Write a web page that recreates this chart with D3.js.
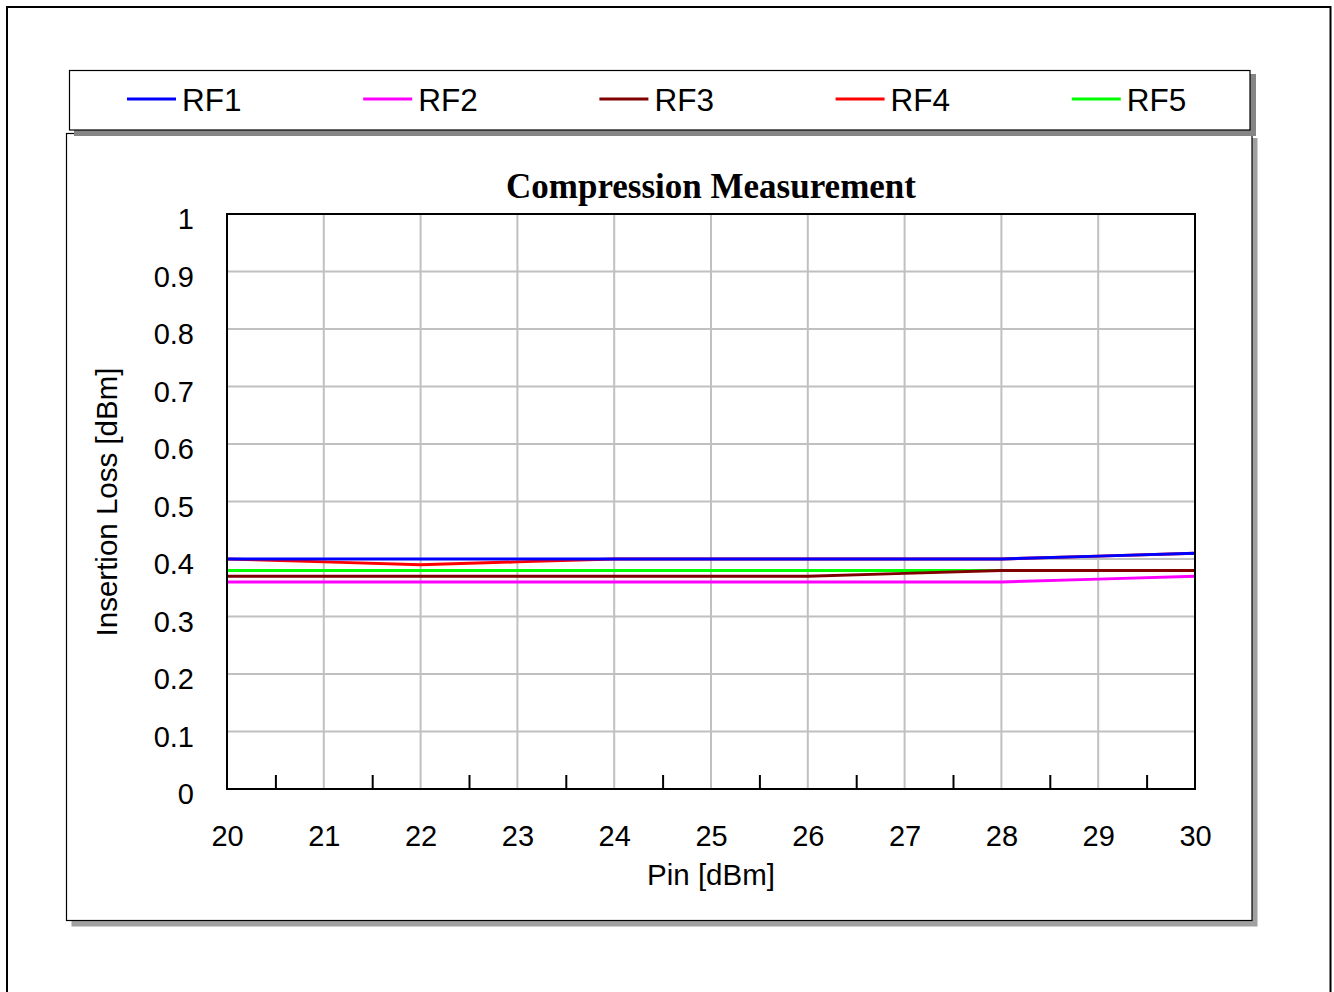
<!DOCTYPE html>
<html>
<head>
<meta charset="utf-8">
<script src="https://cdn.jsdelivr.net/npm/d3@7"></script>
<style>
  html, body { margin: 0; padding: 0; background: #fff; }
  svg { display: block; }
</style>
</head>
<body>
<svg id="chart" width="1334" height="992"></svg>
<script>
// ---- data ----
const pin = [20, 21, 22, 23, 24, 25, 26, 27, 28, 29, 30];
const seriesNames = ["RF1", "RF2", "RF3", "RF4", "RF5"];
const seriesColors = ["#0000ff", "#ff00ff", "#800000", "#ff0000", "#00ff00"];
const rf1 = [0.40, 0.40, 0.40, 0.40, 0.40, 0.40, 0.40, 0.40, 0.40, 0.405, 0.41];
const rf2 = [0.36, 0.36, 0.36, 0.36, 0.36, 0.36, 0.36, 0.36, 0.36, 0.365, 0.37];
const rf3 = [0.37, 0.37, 0.37, 0.37, 0.37, 0.37, 0.37, 0.375, 0.38, 0.38, 0.38];
const rf4 = [0.40, 0.395, 0.39, 0.395, 0.40, 0.40, 0.40, 0.40, 0.40, 0.405, 0.41];
const rf5 = [0.38, 0.38, 0.38, 0.38, 0.38, 0.38, 0.38, 0.38, 0.38, 0.38, 0.38];
const seriesValues = [rf1, rf2, rf3, rf4, rf5];
const xTicks = [20, 21, 22, 23, 24, 25, 26, 27, 28, 29, 30];
const xMinorTicks = [20.5, 21.5, 22.5, 23.5, 24.5, 25.5, 26.5, 27.5, 28.5, 29.5];
const yTicks = [0, 0.1, 0.2, 0.3, 0.4, 0.5, 0.6, 0.7, 0.8, 0.9, 1];
const yTickLabels = ["0", "0.1", "0.2", "0.3", "0.4", "0.5", "0.6", "0.7", "0.8", "0.9", "1"];
const titleText = "Compression Measurement";
const xTitle = "Pin [dBm]";
const yTitle = "Insertion Loss [dBm]";

// ---- layout ----
const sans = "'Liberation Sans', Arial, sans-serif";
const serif = "'Liberation Serif', 'Times New Roman', serif";
const svg = d3.select("#chart");
const plot = { left: 227, right: 1195, top: 214, bottom: 789 };

const x = d3.scaleLinear().domain([20, 30]).range([plot.left, plot.right]);
const y = d3.scaleLinear().domain([0, 1]).range([plot.bottom, plot.top]);

// outer frame
svg.append("rect").attr("x", 7).attr("y", 7).attr("width", 1323.5).attr("height", 1100)
  .attr("fill", "#fff").attr("stroke", "#000").attr("stroke-width", 2);

// panel shadow + panel
svg.append("rect").attr("x", 71.5).attr("y", 138).attr("width", 1186).attr("height", 788.5)
  .attr("fill", "#a0a0a0");
svg.append("rect").attr("x", 66.5).attr("y", 133.5).attr("width", 1185.5).attr("height", 787)
  .attr("fill", "#fff").attr("stroke", "#000").attr("stroke-width", 1.2);

// legend shadow + legend box
svg.append("rect").attr("x", 74).attr("y", 74).attr("width", 1182).attr("height", 62)
  .attr("fill", "#858585");
svg.append("rect").attr("x", 69.5).attr("y", 70.5).attr("width", 1180.5).attr("height", 59.5)
  .attr("fill", "#fff").attr("stroke", "#000").attr("stroke-width", 1.2);

const legend = svg.append("g");
seriesNames.forEach((name, i) => {
  const lx = 127 + i * 236.2;
  legend.append("line").attr("x1", lx).attr("x2", lx + 49).attr("y1", 99).attr("y2", 99)
    .attr("stroke", seriesColors[i]).attr("stroke-width", 3);
  legend.append("text").attr("x", lx + 55).attr("y", 110.5)
    .attr("font-family", sans).attr("font-size", 31.5).attr("fill", "#000").text(name);
});

// title
svg.append("text").attr("x", (plot.left + plot.right) / 2).attr("y", 198)
  .attr("text-anchor", "middle").attr("font-family", serif).attr("font-weight", "bold")
  .attr("font-size", 35).attr("fill", "#000").text(titleText);

// gridlines
const grid = svg.append("g");
grid.selectAll("line.vx").data(xTicks.slice(1, -1)).enter().append("line")
  .attr("x1", d => x(d)).attr("x2", d => x(d)).attr("y1", plot.top).attr("y2", plot.bottom)
  .attr("stroke", "#c0c0c0").attr("stroke-width", 2);
grid.selectAll("line.hy").data(yTicks.slice(1, -1)).enter().append("line")
  .attr("x1", plot.left).attr("x2", plot.right).attr("y1", d => y(d)).attr("y2", d => y(d))
  .attr("stroke", "#c0c0c0").attr("stroke-width", 2);

// minor ticks on bottom axis (inside)
const xAxisMinor = d3.axisTop(x).tickValues(xMinorTicks).tickSize(14).tickFormat("");
const gMinor = svg.append("g").attr("transform", `translate(0,${plot.bottom})`).call(xAxisMinor);
gMinor.select(".domain").remove();
gMinor.selectAll(".tick line").attr("stroke", "#000").attr("stroke-width", 2);

// series lines (draw in reverse so RF1 on top)
const line = d3.line().x((d, i) => x(pin[i])).y(d => y(d));
for (let i = seriesValues.length - 1; i >= 0; i--) {
  svg.append("path").datum(seriesValues[i]).attr("d", line)
    .attr("fill", "none").attr("stroke", seriesColors[i]).attr("stroke-width", 3)
    .attr("stroke-linejoin", "round");
}

// plot border
svg.append("rect").attr("x", plot.left).attr("y", plot.top)
  .attr("width", plot.right - plot.left).attr("height", plot.bottom - plot.top)
  .attr("fill", "none").attr("stroke", "#000").attr("stroke-width", 2);

// x tick labels
const xAxis = d3.axisBottom(x).tickValues(xTicks).tickSize(0).tickPadding(0).tickFormat(d3.format("d"));
const gx = svg.append("g").attr("transform", `translate(0,${plot.bottom})`).call(xAxis);
gx.select(".domain").remove();
gx.selectAll(".tick text").attr("font-family", sans).attr("font-size", 29).attr("fill", "#000")
  .attr("dy", null).attr("y", 57);

// y tick labels
const yAxis = d3.axisLeft(y).tickValues(yTicks).tickSize(0).tickPadding(0)
  .tickFormat((d, i) => yTickLabels[i]);
const gy = svg.append("g").attr("transform", `translate(${plot.left - 33},0)`).call(yAxis);
gy.select(".domain").remove();
gy.selectAll(".tick text").attr("font-family", sans).attr("font-size", 29).attr("fill", "#000")
  .attr("dy", null).attr("y", 14.5).attr("x", 0);

// axis titles
svg.append("text").attr("x", (plot.left + plot.right) / 2).attr("y", 885)
  .attr("text-anchor", "middle").attr("font-family", sans).attr("font-size", 29.5)
  .attr("fill", "#000").text(xTitle);
svg.append("text").attr("transform", `translate(117,502) rotate(-90)`)
  .attr("text-anchor", "middle").attr("font-family", sans).attr("font-size", 29.5)
  .attr("fill", "#000").text(yTitle);
</script>
</body>
</html>
